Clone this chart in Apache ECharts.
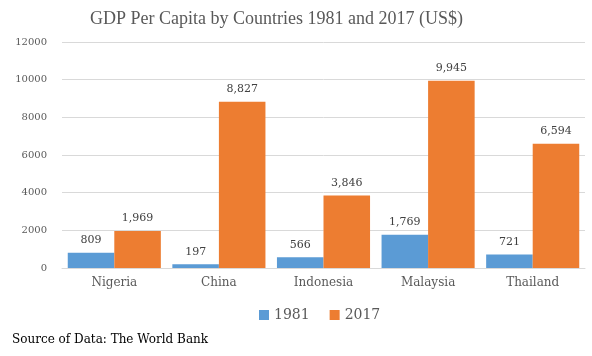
<!DOCTYPE html>
<html><head><meta charset="utf-8">
<script src="https://cdn.jsdelivr.net/npm/echarts@6/dist/echarts.min.js"></script>
<style>html,body{margin:0;padding:0;background:#fff}#c{width:592px;height:356px}</style>
</head><body><div id="c"></div>
<script>
const categories = ['Nigeria','China','Indonesia','Malaysia','Thailand'];
const values1981 = [809,197,566,1769,721];
const values2017 = [1969,8827,3846,9945,6594];
const yTicks = [0,2000,4000,6000,8000,10000,12000];
const F = 'DejaVu Serif';
const T = 'Liberation Serif';
const chart = echarts.init(document.getElementById('c'));
const fmt = p => p.value.toLocaleString('en-US');
chart.setOption({
  animation:false,
  title:{text:'GDP Per Capita by Countries 1981 and 2017 (US$)',left:85,top:5,
    textStyle:{fontFamily:T,fontSize:18,fontWeight:'normal',color:'#595959'}},
  graphic:[{type:'text',left:12,top:334,style:{text:'Source of Data: The World Bank',font:'12px "'+F+'"',fill:'#000'}}],
  legend:{data:['1981','2017'],top:303,left:254,itemWidth:10,itemHeight:10,itemGap:20,icon:'rect',
    textStyle:{fontFamily:F,fontSize:14,color:'#595959'}},
  grid:{left:62,right:7,top:42,bottom:88,containLabel:false},
  xAxis:{type:'category',data:categories,axisTick:{show:false},
    axisLine:{lineStyle:{color:'#d9d9d9'}},
    axisLabel:{fontFamily:F,fontSize:12,color:'#595959',margin:9}},
  yAxis:{type:'value',min:yTicks[0],max:yTicks[yTicks.length-1],interval:2000,
    axisLabel:{fontFamily:F,fontSize:10,color:'#595959',margin:15,formatter:v=>String(v)},
    splitLine:{lineStyle:{color:'#d9d9d9'}}},
  series:[
    {name:'1981',type:'bar',data:values1981,barGap:'0%',barCategoryGap:'11%',itemStyle:{color:'#5B9BD5'},
     label:{show:true,position:'top',formatter:fmt,fontFamily:F,fontSize:11,color:'#404040',distance:7}},
    {name:'2017',type:'bar',data:values2017,itemStyle:{color:'#ED7D31'},
     label:{show:true,position:'top',formatter:fmt,fontFamily:F,fontSize:11,color:'#404040',distance:7}}
  ]
});
</script></body></html>
